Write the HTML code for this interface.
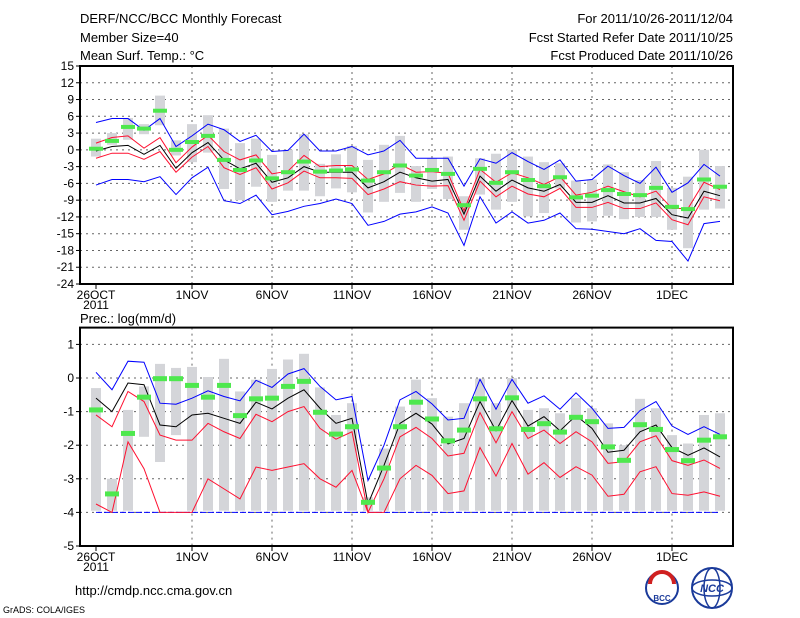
<!DOCTYPE html>
<html><head><meta charset="utf-8"><style>
body{margin:0;background:#fff;}
svg{display:block;font-family:"Liberation Sans",sans-serif;}
</style></head><body>
<svg id="chart" width="800" height="618">
<g font-size="13" fill="#000">
<text x="80" y="23">DERF/NCC/BCC Monthly Forecast</text>
<text x="80" y="42">Member Size=40</text>
<text x="80" y="60">Mean Surf. Temp.: °C</text>
<text x="733" y="23" text-anchor="end">For 2011/10/26-2011/12/04</text>
<text x="733" y="42" text-anchor="end">Fcst Started Refer Date 2011/10/25</text>
<text x="733" y="60" text-anchor="end">Fcst Produced Date 2011/10/26</text>
<text x="80" y="323">Prec.: log(mm/d)</text>
<text x="75" y="595">http://cmdp.ncc.cma.gov.cn</text>
<text x="3" y="613" font-size="9">GrADS: COLA/IGES</text>
</g>
<g>
<circle cx="662" cy="588" r="16" fill="#fff" stroke="#1a3a9a" stroke-width="2"/>
<path d="M650 584 a12 12 0 0 1 24 0" fill="none" stroke="#d02020" stroke-width="4"/>
<text x="662" y="601" font-size="8" text-anchor="middle" fill="#1a3a9a" font-weight="bold">BCC</text>
</g>
<g>
<circle cx="712" cy="588" r="20" fill="#fff" stroke="#1a3a9a" stroke-width="2"/>
<ellipse cx="712" cy="588" rx="20" ry="8" fill="none" stroke="#1a3a9a" stroke-width="1.5"/>
<ellipse cx="712" cy="588" rx="8" ry="20" fill="none" stroke="#1a3a9a" stroke-width="1.5"/>
<text x="712" y="592" font-size="11" text-anchor="middle" fill="#1a3a9a" font-style="italic" font-weight="bold">NCC</text>
</g>
</svg>
<script>
// ---- Temperature panel data (day 0 = 26 Oct) ----
const tMean=[-0.2,0.6,0.8,-0.8,0.8,-3.3,-0.5,1.3,-1.8,-3.4,-2.4,-5.8,-5.0,-3.0,-4.0,-4.0,-4.0,-6.8,-5.7,-4.0,-5.0,-5.6,-5.3,-11.5,-4.7,-7.4,-5.4,-6.8,-7.4,-6.2,-9.4,-9.4,-8.2,-9.5,-9.5,-8.7,-11.6,-12.2,-7.4,-8.2];
const tRedHi=[1.2,2.2,2.5,0.3,2.2,-2.3,0.5,2.6,-0.3,-1.8,-0.9,-4.3,-3.8,-1.0,-3.0,-2.8,-2.8,-5.3,-4.3,-2.6,-4.0,-3.9,-4.2,-10.9,-3.5,-5.8,-4.1,-5.0,-6.2,-4.8,-8.1,-7.6,-6.5,-7.5,-8.4,-7.4,-10.5,-10.5,-5.8,-7.1];
const tRedLo=[-1.5,-0.6,-0.6,-1.7,-0.3,-4.0,-1.3,0.6,-3.2,-4.4,-3.2,-7.0,-5.9,-3.8,-5.0,-5.0,-5.1,-8.0,-7.0,-5.7,-6.3,-6.5,-6.4,-12.6,-5.6,-8.4,-6.5,-7.9,-8.4,-6.9,-10.3,-10.3,-9.4,-10.5,-10.5,-9.5,-12.5,-13.4,-8.4,-9.1];
const tBlueHi=[4.9,5.6,5.6,3.5,5.6,0.6,2.5,4.6,3.6,1.5,2.6,-0.3,-0.1,2.8,-0.2,-0.2,0.6,-0.9,-0.2,1.7,-1.5,-1.5,-1.5,-6.5,-1.6,-2.4,-0.5,-2.1,-3.5,-1.8,-5.6,-5.3,-2.9,-4.6,-6.0,-3.1,-7.6,-5.9,-2.6,-4.7];
const tBlueLo=[-6.3,-5.3,-5.3,-5.7,-4.8,-8.0,-5.0,-3.1,-9.1,-9.6,-8.1,-11.6,-11.0,-10.1,-9.6,-8.8,-9.6,-13.5,-12.8,-11.5,-11.1,-10.2,-11.3,-17.1,-8.4,-13.1,-11.1,-13.1,-12.6,-11.3,-14.1,-14.2,-14.6,-15.0,-14.1,-16.2,-16.4,-19.9,-13.2,-12.8];
const tObs=[0.2,1.6,4.1,3.8,7.0,0.0,1.4,2.5,-1.8,-3.6,-1.9,-5.1,-4.0,-2.1,-3.9,-3.7,-3.5,-5.5,-4.0,-2.8,-4.6,-3.6,-4.3,-9.9,-3.4,-5.9,-4.0,-5.4,-6.5,-4.9,-8.5,-8.2,-7.2,-7.9,-8.1,-6.8,-10.2,-10.6,-5.3,-6.6];
const tBoxHi=[2.0,3.0,5.7,4.6,9.7,1.7,4.6,6.2,3.8,1.2,2.0,-0.9,0.0,2.8,-2.5,-0.8,0.7,-1.8,0.9,2.5,-2.9,-1.5,-1.2,-8.3,-1.5,-0.7,0.0,-1.2,-2.2,-2.4,-5.5,-5.3,-2.6,-4.0,-5.4,-2.0,-6.8,-4.8,0.0,-2.9];
const tBoxLo=[-1.2,0.9,1.8,2.8,4.4,-1.0,-2.2,-0.5,-7.0,-9.0,-6.6,-9.3,-7.3,-7.3,-8.3,-6.9,-7.6,-11.2,-9.3,-7.7,-9.3,-7.0,-8.8,-14.3,-8.0,-10.7,-9.3,-11.9,-11.3,-6.9,-13.0,-12.8,-11.8,-12.4,-12.0,-12.0,-14.3,-17.6,-10.7,-10.5];
const tTicks=[15,12,9,6,3,0,-3,-6,-9,-12,-15,-18,-21,-24];
// ---- Precipitation panel data ----
const pMean=[-0.6,-1.0,-0.15,-0.2,-1.4,-1.45,-1.1,-1.05,-1.2,-1.35,-0.72,-0.92,-0.6,-0.35,-0.9,-1.35,-1.2,-3.75,-2.6,-1.35,-1.05,-1.37,-1.96,-1.8,-0.7,-1.57,-0.67,-1.43,-1.15,-1.57,-1.12,-1.5,-2.21,-2.15,-1.6,-1.4,-2.07,-2.3,-2.08,-2.35];
const pBlueHi=[0.17,-0.35,0.5,0.47,-0.75,-0.78,-0.6,-0.38,-0.55,-0.68,-0.07,-0.28,0.12,0.28,-0.25,-0.65,-0.55,-3.05,-2.0,-0.65,-0.4,-0.77,-1.25,-1.2,-0.04,-0.93,-0.04,-0.75,-0.53,-0.93,-0.44,-0.9,-1.5,-1.47,-0.97,-0.7,-1.43,-1.68,-1.45,-1.68];
const pRedHi=[-1.1,-1.45,-0.4,-0.7,-1.7,-1.85,-1.85,-1.35,-1.6,-1.8,-1.08,-1.3,-1.0,-0.85,-1.5,-1.82,-1.6,-4.0,-3.0,-1.75,-1.47,-1.8,-2.32,-2.24,-1.03,-1.93,-1.0,-1.8,-1.55,-1.95,-1.6,-1.9,-2.54,-2.49,-1.9,-1.72,-2.46,-2.6,-2.44,-2.69];
const pRedLo=[-3.75,-4.0,-1.9,-2.7,-4.0,-4.0,-4.0,-3.0,-3.3,-3.6,-2.65,-2.75,-2.65,-2.55,-3.0,-3.25,-2.75,-4.0,-4.0,-3.0,-2.6,-2.9,-3.44,-3.36,-2.07,-2.92,-1.95,-2.86,-2.52,-2.96,-2.64,-2.89,-3.52,-3.46,-2.79,-2.64,-3.44,-3.49,-3.39,-3.52];
const pBlueLo=[-4,-4,-4,-4,-4,-4,-4,-4,-4,-4,-4,-4,-4,-4,-4,-4,-4,-4,-4,-4,-4,-4,-4,-4,-4,-4,-4,-4,-4,-4,-4,-4,-4,-4,-4,-4,-4,-4,-4,-4];
const pObs=[-0.95,-3.45,-1.65,-0.57,-0.02,-0.02,-0.22,-0.57,-0.22,-1.12,-0.62,-0.6,-0.25,-0.1,-1.02,-1.67,-1.45,-3.7,-2.68,-1.45,-0.72,-1.22,-1.87,-1.55,-0.62,-1.51,-0.59,-1.53,-1.36,-1.61,-1.17,-1.3,-2.05,-2.45,-1.39,-1.53,-2.13,-2.46,-1.85,-1.75];
const pBoxHi=[-0.3,-3.0,-0.95,-0.25,0.42,0.3,0.33,0.03,0.57,-0.4,-0.05,0.27,0.55,0.72,-0.28,-1.1,-0.75,-3.55,-2.1,-0.85,-0.05,-0.6,-1.15,-0.75,-0.02,-0.75,0.0,-0.95,-0.9,-1.05,-0.6,-0.9,-1.35,-2.0,-0.62,-0.9,-1.7,-1.95,-1.1,-1.05];
const pBoxLo=[-3.95,-3.95,-3.95,-1.75,-2.5,-1.7,-3.95,-3.95,-3.95,-3.95,-3.95,-3.95,-3.95,-3.95,-3.95,-3.95,-3.95,-3.95,-3.95,-3.95,-3.95,-3.95,-3.95,-3.95,-3.95,-3.95,-3.95,-3.95,-3.95,-3.95,-3.95,-3.95,-3.95,-3.95,-3.95,-3.95,-3.95,-3.95,-3.95,-3.95];
const pTicks=[1,0,-1,-2,-3,-4,-5];
const dateDays=[0,6,11,16,21,26,31,36];
const dateLabels=["26OCT","1NOV","6NOV","11NOV","16NOV","21NOV","26NOV","1DEC"];

const NS="http://www.w3.org/2000/svg";
const svg=document.getElementById('chart');
const X0=80,X1=733;
const xDay=d=>96+16*d;
function mk(tag,attrs,parent){const e=document.createElementNS(NS,tag);for(const k in attrs)e.setAttribute(k,attrs[k]);parent.appendChild(e);return e;}

function panel(name,top,bottom,vmax,vmin,ticks,series,boxHi,boxLo,obs,obsH){
  const y=v=>top+(vmax-v)/(vmax-vmin)*(bottom-top);
  const g=mk('g',{},svg);
  
  
  ticks.forEach(t=>{
    if(t!==vmax&&t!==vmin){const l=mk('line',{x1:X0,x2:X1,y1:y(t),y2:y(t),stroke:'#666','stroke-dasharray':'2,4','stroke-width':1},g);
    
    }
    const tk=mk('line',{x1:X0-4,x2:X0,y1:y(t),y2:y(t),stroke:'#000'},g);
    
    
    const tx=mk('text',{x:X0-6,y:y(t)+4,'text-anchor':'end','font-size':12},g);
    tx.textContent=t;
    
    
  });
  dateDays.forEach((d,i)=>{
    if(d>0){const l=mk('line',{x1:xDay(d),x2:xDay(d),y1:top,y2:bottom,stroke:'#666','stroke-dasharray':'2,4'},g);
    
    }
    const tk=mk('line',{x1:xDay(d),x2:xDay(d),y1:bottom,y2:bottom+5,stroke:'#000'},g);
    
    
    const tx=mk('text',{x:xDay(d),y:bottom+15,'text-anchor':'middle','font-size':12},g);
    tx.textContent=dateLabels[i];
    
    
  });
  const yr=mk('text',{x:96,y:bottom+25,'text-anchor':'middle','font-size':12},g);
  yr.textContent='2011';
  
  
  boxHi.forEach((h,i)=>{
    const r=mk('rect',{x:xDay(i)-5,y:y(h),width:10,height:Math.max(1,y(boxLo[i])-y(h)),fill:'#d4d5d9'},g);
    
    
  });
  series.forEach(s=>{
    const p=mk('polyline',{points:s.v.map((v,i)=>xDay(i)+','+y(v)).join(' '),fill:'none',stroke:s.c,'stroke-width':1,'stroke-dasharray':s.dash||'none'},g);
    
    
  });
  obs.forEach((v,i)=>{
    const r=mk('rect',{x:xDay(i)-7,y:y(v)-obsH/2,width:14,height:obsH,fill:'#4ee84e'},g);
    
    
  });
  const f=mk('rect',{x:X0,y:top,width:X1-X0,height:bottom-top,fill:'none',stroke:'#000','stroke-width':2},g);
  
  
}
panel('temperature',66,284,15,-24,tTicks,[
 {v:tBlueHi,c:'#0000ff',n:'temp-max-line'},{v:tBlueLo,c:'#0000ff',n:'temp-min-line'},
 {v:tRedHi,c:'#ff1030',n:'temp-upper-line'},{v:tRedLo,c:'#ff1030',n:'temp-lower-line'},
 {v:tMean,c:'#000',n:'temp-mean-line'}],tBoxHi,tBoxLo,tObs,4);
panel('precipitation',327.6,546,1.5,-5,pTicks,[
 {v:pBlueLo,c:'#0000ff',n:'prec-min-line',dash:'6,2'},{v:pBlueHi,c:'#0000ff',n:'prec-max-line'},
 {v:pRedHi,c:'#ff1030',n:'prec-upper-line'},{v:pRedLo,c:'#ff1030',n:'prec-lower-line'},
 {v:pMean,c:'#000',n:'prec-mean-line'}],pBoxHi,pBoxLo,pObs,5);
</script>
</body></html>
